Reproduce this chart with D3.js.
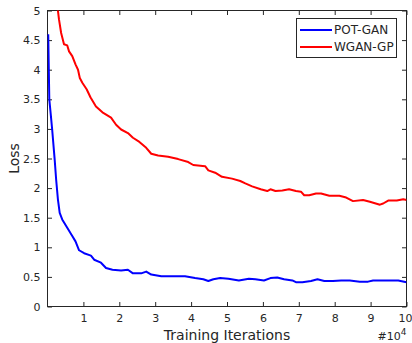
<!DOCTYPE html>
<html><head><meta charset="utf-8">
<script src="https://cdn.jsdelivr.net/npm/d3@7"></script>
<style>body{margin:0;background:#fff}svg{display:block}text{font-family:"DejaVu Sans",sans-serif;fill:#262626}</style>
</head><body><svg id="c" width="412" height="343"></svg>
<script>
const potX = [0.02,0.05,0.09,0.13,0.2,0.24,0.29,0.34,0.41,0.55,0.69,0.78,0.88,1.02,1.21,1.30,1.49,1.63,1.81,2.05,2.24,2.38,2.61,2.75,2.89,3.17,3.40,3.83,4.11,4.34,4.48,4.62,4.81,5.04,5.33,5.61,5.79,6.03,6.21,6.40,6.59,6.82,6.92,7.10,7.34,7.52,7.71,7.95,8.18,8.42,8.70,8.93,9.07,9.44,9.77,10.0];
const potY = [4.6,3.5,3.25,2.99,2.48,2.15,1.81,1.58,1.47,1.33,1.19,1.10,0.95,0.90,0.86,0.79,0.74,0.65,0.62,0.61,0.62,0.56,0.56,0.59,0.54,0.51,0.51,0.51,0.48,0.46,0.43,0.46,0.48,0.47,0.44,0.47,0.46,0.44,0.48,0.49,0.46,0.44,0.41,0.41,0.43,0.46,0.43,0.43,0.44,0.44,0.42,0.42,0.44,0.44,0.44,0.41];
const wganX = [0.27,0.32,0.38,0.46,0.55,0.6,0.69,0.78,0.85,0.9,0.97,1.09,1.2,1.35,1.53,1.77,1.91,2.05,2.24,2.38,2.56,2.75,2.89,3.08,3.36,3.64,3.92,4.06,4.39,4.48,4.67,4.86,5.14,5.37,5.51,5.70,5.94,6.12,6.21,6.35,6.54,6.73,6.92,7.06,7.15,7.29,7.48,7.62,7.85,8.13,8.32,8.51,8.79,8.98,9.26,9.35,9.49,9.73,9.91,10.0];
const wganY = [5.1,4.85,4.62,4.43,4.41,4.31,4.23,4.09,4.0,3.86,3.78,3.67,3.53,3.38,3.28,3.19,3.07,2.99,2.93,2.85,2.78,2.68,2.58,2.55,2.53,2.49,2.44,2.39,2.37,2.30,2.26,2.19,2.16,2.12,2.08,2.03,1.98,1.95,1.98,1.95,1.96,1.98,1.95,1.94,1.88,1.88,1.91,1.91,1.87,1.87,1.84,1.78,1.80,1.77,1.72,1.74,1.79,1.79,1.81,1.80];
const xTicks = [1,2,3,4,5,6,7,8,9,10];
const yTicks = [0,0.5,1,1.5,2,2.5,3,3.5,4,4.5,5];
const seriesNames = ["POT-GAN","WGAN-GP"];
const seriesColors = ["#0000ff","#ff0000"];

const L=47.5,R=406.5,T=10.5,B=306.5;
const svg=d3.select("#c");
const x=d3.scaleLinear().domain([0,10]).range([L,R]);
const y=d3.scaleLinear().domain([0,5]).range([B,T]);
const defs=svg.append("defs");
defs.append("clipPath").attr("id","clip").append("rect").attr("x",L).attr("y",T).attr("width",R-L).attr("height",B-T);

const fmt=d=>String(d);
const tl=4.5;
const gB=svg.append("g").attr("transform",`translate(0,${B})`).call(d3.axisBottom(x).tickValues(xTicks).tickSize(-tl).tickPadding(8).tickFormat(fmt));
const gT=svg.append("g").attr("transform",`translate(0,${T})`).call(d3.axisTop(x).tickValues(xTicks).tickSize(-tl).tickFormat(""));
const gL=svg.append("g").attr("transform",`translate(${L},0)`).call(d3.axisLeft(y).tickValues(yTicks).tickSize(-tl).tickPadding(7).tickFormat(fmt));
const gR=svg.append("g").attr("transform",`translate(${R},0)`).call(d3.axisRight(y).tickValues(yTicks).tickSize(-tl).tickFormat(""));
[gB,gT,gL,gR].forEach(g=>{
  g.select(".domain").remove();
  g.selectAll("line").attr("stroke","#262626");
  g.selectAll("text").style("font-size","11px").attr("fill","#262626");
});
gB.selectAll("text").attr("dy","0.71em");
gB.selectAll("text").filter(d=>d===10).attr("dx","-1.5");
svg.append("rect").attr("x",L).attr("y",T).attr("width",R-L).attr("height",B-T).attr("fill","none").attr("stroke","#262626").attr("stroke-width",1);

const line=d3.line().x(d=>x(d[0])).y(d=>y(d[1]));
const g=svg.append("g").attr("clip-path","url(#clip)");
g.append("path").datum(wganX.map((v,i)=>[v,wganY[i]])).attr("d",line).attr("fill","none").attr("stroke",seriesColors[1]).attr("stroke-width",2).attr("stroke-linejoin","round");
g.append("path").datum(potX.map((v,i)=>[v,potY[i]])).attr("d",line).attr("fill","none").attr("stroke",seriesColors[0]).attr("stroke-width",2).attr("stroke-linejoin","round");

svg.append("text").attr("x",(L+R)/2).attr("y",340).attr("text-anchor","middle").style("font-size","14px").text("Training Iterations");
svg.append("text").attr("transform",`translate(19,${(T+B)/2}) rotate(-90)`).attr("text-anchor","middle").style("font-size","14px").text("Loss");
const ex=svg.append("text").attr("x",R).attr("y",340).attr("text-anchor","end").style("font-size","11px");
ex.append("tspan").text("#10");
ex.append("tspan").attr("dy","-5").style("font-size","9px").text("4");

const lg=svg.append("g");
lg.append("rect").attr("x",296.5).attr("y",18.5).attr("width",100).attr("height",39).attr("fill","#fff").attr("stroke","#262626");
seriesNames.forEach((n,i)=>{
  const yy=30+i*17;
  lg.append("line").attr("x1",300).attr("x2",332).attr("y1",yy).attr("y2",yy).attr("stroke",seriesColors[i]).attr("stroke-width",2);
  lg.append("text").attr("x",334).attr("y",yy).attr("dy","0.35em").style("font-size","12px").text(n);
});
</script></body></html>
